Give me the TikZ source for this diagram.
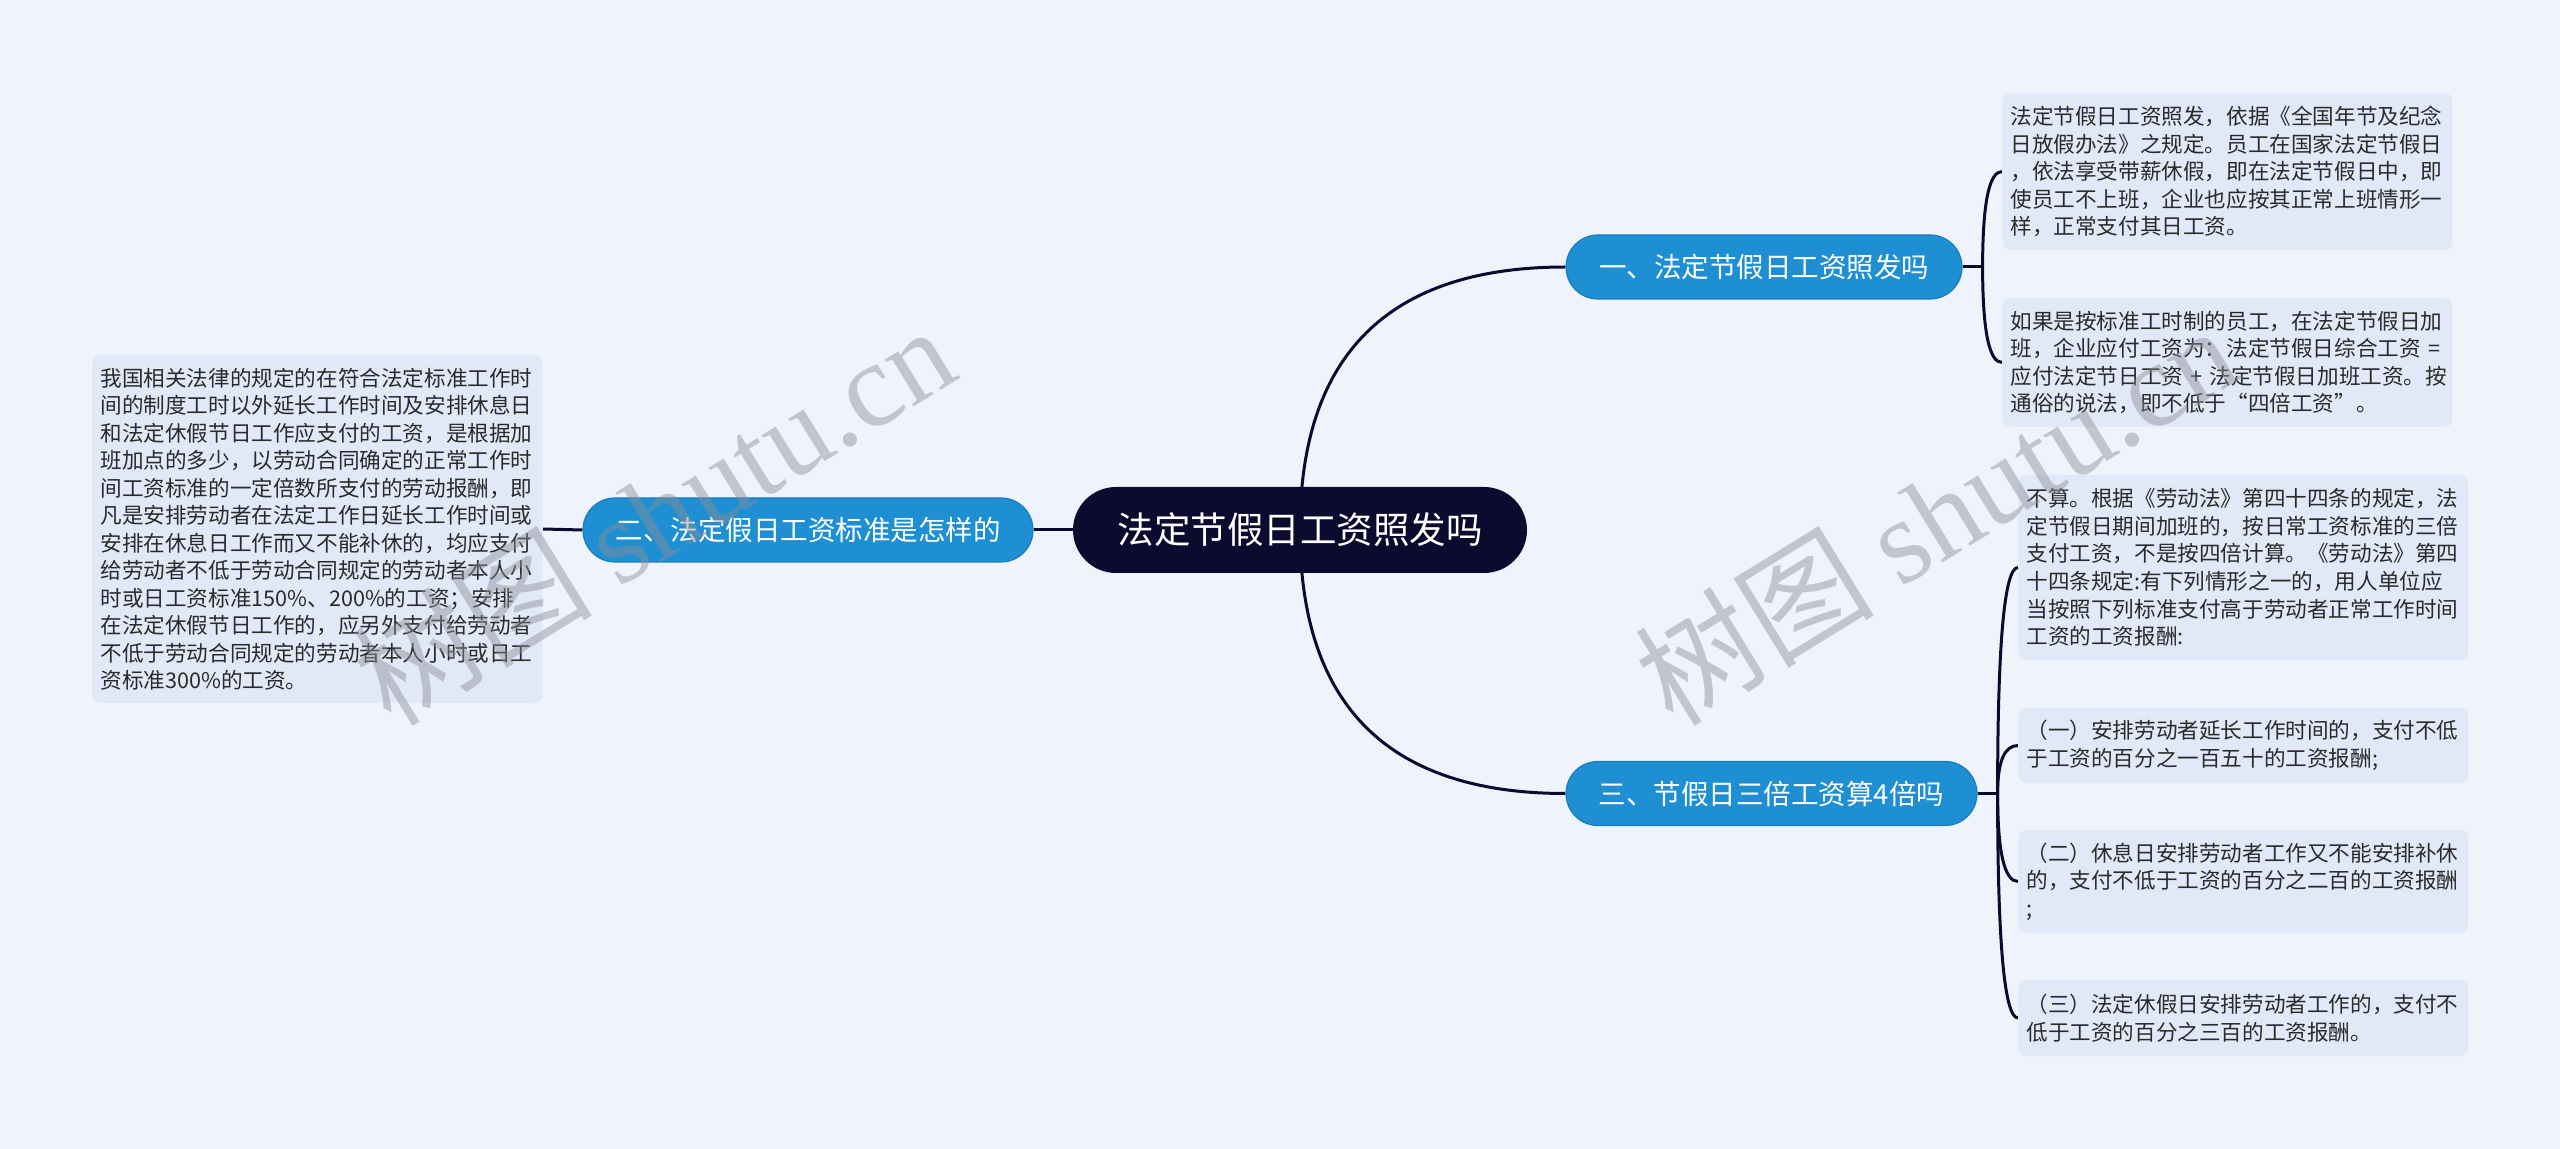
\documentclass[tikz,border=0pt]{standalone}
\usepackage{fontspec}
\setmainfont{Noto Sans CJK SC}
\newfontfamily\wmfont{Liberation Serif}
\usetikzlibrary{calc}
\definecolor{bgc}{HTML}{EEF3FC}
\definecolor{leafc}{HTML}{E1E9F9}
\definecolor{brc}{HTML}{1E8FD2}
\definecolor{brd}{HTML}{1A7DBD}
\definecolor{rootc}{HTML}{0C0A2E}
\definecolor{linec}{HTML}{0C0A2E}
\definecolor{txtc}{HTML}{2A2A2A}
\definecolor{wmc}{HTML}{8E8E96}
\pgfdeclarelayer{bg}
\pgfsetlayers{bg,main}
\newcommand\qconn[2]{%
  \coordinate (qc) at (#1 |- #2);
  \draw[conn] (#1) .. controls ($(#1)!0.6667!(qc)$) and ($(#2)!0.6667!(qc)$) .. (#2);}
\begin{document}
\begin{tikzpicture}[x=0.5pt,y=-0.5pt,
  conn/.style={draw=linec, line width=1.5pt},
  leaf/.style={fill=leafc, rounded corners=4pt, text=txtc, align=left, anchor=west,
    inner xsep=4pt, inner ysep=0pt, text width=217pt, minimum width=225pt,
    font=\fontsize{10.8pt}{13.75pt}\selectfont},
  branch/.style={fill=brc, draw=brd, line width=0.6pt, rounded corners=16pt,
    minimum height=32pt, text=white, inner sep=0pt,
    font=\fontsize{13.75pt}{16pt}\selectfont},
  rootbox/.style={fill=rootc, rounded corners=21.5pt, minimum height=43pt,
    minimum width=227pt, text=white, inner sep=0pt,
    font=\fontsize{18.25pt}{20pt}\selectfont},
  wm/.style={text=wmc, opacity=0.45, font=\fontsize{60pt}{60pt}\selectfont, inner sep=0pt}
]
\begin{pgfonlayer}{bg}
  \fill[bgc] (0,0) rectangle (2560,1149);
\end{pgfonlayer}
\useasboundingbox (0,0) rectangle (2560,1149);

% root and branches
\node[rootbox] (root) at (1300,530) {法定节假日工资照发吗};
\node[branch, minimum width=198pt] (b1) at (1764,267) {一、法定节假日工资照发吗};
\node[branch, minimum width=225pt] (b2) at (808,530) {二、法定假日工资标准是怎样的};
\node[branch, minimum width=205.5pt] (b3) at (1771.5,793.5) {三、节假日三倍工资算4倍吗};

% leaves
\node[leaf, minimum height=78.5pt] (l1a) at (2002,171.5) {法定节假日工资照发，依据《全国年节及纪念\\日放假办法》之规定。员工在国家法定节假日\\，依法享受带薪休假，即在法定节假日中，即\\使员工不上班，企业也应按其正常上班情形一\\样，正常支付其日工资。};
\node[leaf, minimum height=64.5pt] (l1b) at (2002,362.5) {如果是按标准工时制的员工，在法定节假日加\\班，企业应付工资为：法定节假日综合工资\mbox{ =}\\\mbox{应付法定节日工资 + 法定节假日加班工资。按}\\通俗的说法，即不低于“四倍工资”。};
\node[leaf, minimum height=174pt] (l2) at (92,529) {我国相关法律的规定的在符合法定标准工作时\\间的制度工时以外延长工作时间及安排休息日\\和法定休假节日工作应支付的工资，是根据加\\班加点的多少，以劳动合同确定的正常工作时\\间工资标准的一定倍数所支付的劳动报酬，即\\凡是安排劳动者在法定工作日延长工作时间或\\安排在休息日工作而又不能补休的，均应支付\\给劳动者不低于劳动合同规定的劳动者本人小\\时或日工资标准150\%、200\%的工资；安排\\在法定休假节日工作的，应另外支付给劳动者\\不低于劳动合同规定的劳动者本人小时或日工\\资标准300\%的工资。};
\node[leaf, minimum height=92.5pt] (l3a) at (2018,567.5) {不算。根据《劳动法》第四十四条的规定，法\\定节假日期间加班的，按日常工资标准的三倍\\支付工资，不是按四倍计算。《劳动法》第四\\十四条规定:有下列情形之一的，用人单位应\\当按照下列标准支付高于劳动者正常工作时间\\工资的工资报酬:};
\node[leaf, minimum height=37.5pt] (l3b) at (2018,745.5) {（一）安排劳动者延长工作时间的，支付不低\\于工资的百分之一百五十的工资报酬;};
\node[leaf, minimum height=51.5pt] (l3c) at (2018,881.5) {（二）休息日安排劳动者工作又不能安排补休\\的，支付不低于工资的百分之二百的工资报酬\\;};
\node[leaf, minimum height=38pt] (l3d) at (2018,1018) {（三）法定休假日安排劳动者工作的，支付不\\低于工资的百分之三百的工资报酬。};

% connectors
\coordinate (j1) at ($(b1.east)+(20,0)$);
\coordinate (j3) at ($(b3.east)+(20,0)$);
\begin{pgfonlayer}{bg}
  \qconn{root.center}{b1.west}
  \qconn{root.center}{b3.west}
  \draw[conn] (root.west) -- (b2.east);
  \draw[conn] (b2.west) -- (l2.east);
  \draw[conn] (b1.east) -- (j1);
  \qconn{j1}{l1a.west}
  \qconn{j1}{l1b.west}
  \draw[conn] (b3.east) -- (j3);
  \qconn{j3}{l3a.west}
  \qconn{j3}{l3b.west}
  \qconn{j3}{l3c.west}
  \qconn{j3}{l3d.west}
\end{pgfonlayer}

% watermarks
\node[wm, rotate=31.6] (wm1) at (653,514) {树图 {\wmfont shutu.cn}};
\node[wm, rotate=31.6] (wm2) at (1935,514) {树图 {\wmfont shutu.cn}};
\end{tikzpicture}
\end{document}
